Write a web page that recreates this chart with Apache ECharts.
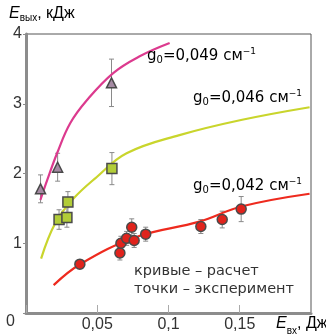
<!DOCTYPE html>
<html><head><meta charset="utf-8">
<script src="https://cdn.jsdelivr.net/npm/echarts@6/dist/echarts.min.js"></script>
<style>html,body{margin:0;padding:0;background:#fff}#c{width:326px;height:335px}</style>
</head><body><div id="c"></div>
<script>
// Experimental points [E_in (J), E_out (kJ), error]
const triPoints = [[0.0102, 1.78, 0.20], [0.0222, 2.09, 0.20], [0.0600, 3.30, 0.34]];
const sqPoints = [[0.0232, 1.34, 0.14], [0.0287, 1.37, 0.14], [0.0294, 1.59, 0.15], [0.0603, 2.07, 0.23]];
const circPoints = [[0.0378, 0.70, 0.06], [0.0659, 0.86, 0.10], [0.0666, 1.00, 0.10], [0.0706, 1.07, 0.10],
  [0.0742, 1.23, 0.12], [0.0759, 1.04, 0.10], [0.0840, 1.13, 0.10], [0.1227, 1.24, 0.10],
  [0.1377, 1.34, 0.12], [0.1510, 1.49, 0.18]];
// Calculated curves
const curve049 = [[0.0101, 1.62], [0.0148, 1.90], [0.0218, 2.29], [0.0310, 2.72], [0.0427, 3.05],
  [0.0612, 3.44], [0.0798, 3.68], [0.1008, 3.87]];
const curve046 = [[0.0106, 0.78], [0.0206, 1.29], [0.0333, 1.64], [0.0497, 1.95], [0.0706, 2.29],
  [0.1077, 2.55], [0.1517, 2.77], [0.1990, 2.95]];
const curve042 = [[0.0194, 0.40], [0.0380, 0.70], [0.0775, 1.09], [0.1217, 1.31], [0.1517, 1.53], [0.1990, 1.71]];
const xTicks = [0, 0.05, 0.1, 0.15, 0.2];
const yTicks = [0, 1, 2, 3, 4];

const FONT = 'Liberation Sans';
const TFONT = 'DejaVu Sans';
const chart = echarts.init(document.getElementById('c'));

function errSeries(pts) {
  return {
    type: 'custom', z: 2, silent: true,
    data: pts,
    renderItem: function (params, api) {
      const x = api.value(0), y = api.value(1), e = api.value(2);
      const top = api.coord([x, y + e]), bot = api.coord([x, y - e]);
      const st = { stroke: '#8a8a8a', lineWidth: 1 };
      return { type: 'group', children: [
        { type: 'line', shape: { x1: top[0], y1: top[1], x2: bot[0], y2: bot[1] }, style: st },
        { type: 'line', shape: { x1: top[0] - 2.5, y1: top[1], x2: top[0] + 2.5, y2: top[1] }, style: st },
        { type: 'line', shape: { x1: bot[0] - 2.5, y1: bot[1], x2: bot[0] + 2.5, y2: bot[1] }, style: st }
      ]};
    }
  };
}
function curve(data, color) {
  return { type: 'line', data: data, smooth: 0.4, showSymbol: false, symbol: 'none', z: 3,
    lineStyle: { color: color, width: 2.2 } };
}
function pts(data, symbol, size, fill) {
  return { type: 'scatter', data: data.map(p => [p[0], p[1]]), symbol: symbol, symbolSize: size, z: 4,
    itemStyle: { color: fill, borderColor: '#4a4a4a', borderWidth: 1.5, opacity: 1 } };
}

const rich = {
  n: { fontFamily: TFONT, fontSize: 15, color: '#333' },
  sub: { fontFamily: TFONT, fontSize: 10, color: '#333', padding: [8, 0, 0, 0] },
  sup: { fontFamily: TFONT, fontSize: 9, color: '#333', padding: [0, 0, 8, 0] }
};
function gLabel(val, left, top, bg) {
  return { type: 'text', left: left, top: top, z: 10,
    style: { text: '{n|g}{sub|0}{n|=' + val + ' см}{sup|−1}', rich: rich,
      backgroundColor: bg ? '#fff' : 'transparent', padding: bg ? [0, 2, 0, 2] : 0 } };
}

chart.setOption({
  animation: false,
  backgroundColor: '#fff',
  grid: { left: 26, right: 15, top: 34, bottom: 22, show: true, borderColor: '#555', borderWidth: 1 },
  xAxis: { type: 'value', min: xTicks[0], max: xTicks[xTicks.length - 1], interval: 0.05,
    axisLine: { show: true, lineStyle: { color: '#8c8c8c', width: 3 } },
    axisTick: { show: true, inside: true, length: 8, lineStyle: { color: '#aaa', width: 1 } },
    splitLine: { show: false },
    axisLabel: { fontFamily: FONT, fontSize: 16, color: '#333', margin: 4,
      formatter: v => (v === 0 || v >= 0.2) ? '' : String(+v.toFixed(2)).replace('.', ',') } },
  yAxis: { type: 'value', min: yTicks[0], max: yTicks[yTicks.length - 1], interval: 1,
    axisLine: { show: true, lineStyle: { color: '#8c8c8c', width: 3 } },
    axisTick: { show: true, length: 3, lineStyle: { color: '#8c8c8c', width: 1 } },
    splitLine: { show: false },
    axisLabel: { fontFamily: FONT, fontSize: 16, color: '#333', margin: 4,
      formatter: v => v === 0 ? '' : String(v) } },
  graphic: [
    gLabel('0,049', 147, 47, false),
    gLabel('0,046', 191, 89, true),
    gLabel('0,042', 193, 177, false),
    { type: 'text', left: 134, top: 262, z: 10,
      style: { text: 'кривые – расчет\nточки – эксперимент', fontFamily: TFONT, fontSize: 14.5,
        lineHeight: 18, fill: '#333' } },
    { type: 'text', left: 9, top: 6, z: 10,
      style: { text: '{i|E}{s|вых}{n|, кДж}', rich: {
        i: { fontFamily: FONT, fontSize: 16, fontStyle: 'italic', color: '#333' },
        s: { fontFamily: FONT, fontSize: 10, color: '#333', padding: [9, 0, 0, 0] },
        n: { fontFamily: FONT, fontSize: 16, color: '#333' } } } },
    { type: 'text', left: 276, top: 316, z: 10,
      style: { text: '{i|E}{s|вх}{n|, Дж}', rich: {
        i: { fontFamily: FONT, fontSize: 16, fontStyle: 'italic', color: '#333' },
        s: { fontFamily: FONT, fontSize: 10, color: '#333', padding: [14, 0, 0, 0] },
        n: { fontFamily: FONT, fontSize: 16, color: '#333' } } } },
    { type: 'text', left: 6, top: 314, z: 10,
      style: { text: '0', fontFamily: FONT, fontSize: 16, fill: '#333' } }
  ],
  series: [
    errSeries(triPoints), errSeries(sqPoints), errSeries(circPoints),
    curve(curve049, '#dc3a8e'), curve(curve046, '#c9d52c'), curve(curve042, '#ee2a1e'),
    pts(triPoints, 'triangle', 10, '#a58aa3'),
    pts(sqPoints, 'rect', 10, '#b2cd38'),
    pts(circPoints, 'circle', 10, '#e0231c')
  ]
});
</script></body></html>
